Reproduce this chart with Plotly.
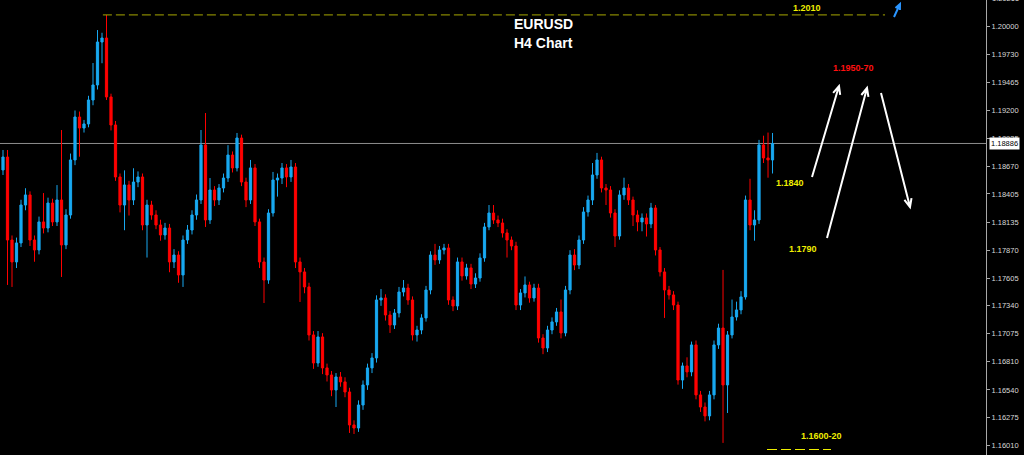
import math
import plotly.graph_objects as go

# ---------------- data (EURUSD H4 candles) ----------------
open_ = [
    1.18634, 1.18757, 1.17967, 1.17758, 1.17939, 1.18300, 1.18396, 1.17967, 1.17872, 1.18139,
    1.18081, 1.18319, 1.18139, 1.18348, 1.17920, 1.18205, 1.18729, 1.19138, 1.19033, 1.19072,
    1.19300, 1.19443, 1.19852, 1.19890, 1.19329, 1.19062, 1.18567, 1.18300, 1.18491, 1.18348,
    1.18519, 1.18567, 1.18110, 1.18300, 1.18205, 1.18110, 1.18015, 1.18081, 1.17758, 1.17824,
    1.17634, 1.17967, 1.18062, 1.18205, 1.18348, 1.18872, 1.18158, 1.18443, 1.18348, 1.18462,
    1.18557, 1.18776, 1.18653, 1.18938, 1.18519, 1.18348, 1.18653, 1.18139, 1.17758, 1.17586,
    1.18224, 1.18538, 1.18557, 1.18653, 1.18567, 1.18662, 1.17758, 1.17663, 1.17520, 1.17063,
    1.16796, 1.17044, 1.16749, 1.16682, 1.16539, 1.16663, 1.16616, 1.16520, 1.16206, 1.16177,
    1.16396, 1.16587, 1.16749, 1.16844, 1.17396, 1.17415, 1.17253, 1.17158, 1.17272, 1.17472,
    1.17510, 1.17396, 1.17063, 1.17110, 1.17225, 1.17491, 1.17824, 1.17777, 1.17872, 1.17891,
    1.17396, 1.17339, 1.17758, 1.17625, 1.17701, 1.17548, 1.17605, 1.17796, 1.18091, 1.18224,
    1.18158, 1.18129, 1.18034, 1.17967, 1.17910, 1.17348, 1.17463, 1.17539, 1.17415, 1.17510,
    1.17034, 1.16939, 1.17110, 1.17187, 1.17282, 1.17082, 1.17491, 1.17824, 1.17729, 1.17967,
    1.18234, 1.18348, 1.18586, 1.18729, 1.18462, 1.18443, 1.18224, 1.18005, 1.18396, 1.18462,
    1.18348, 1.18205, 1.18139, 1.18177, 1.18120, 1.18272, 1.17872, 1.17663, 1.17491, 1.17444,
    1.17348, 1.16634, 1.16768, 1.16711, 1.16968, 1.16492, 1.16377, 1.16292, 1.16492, 1.16968,
    1.17129, 1.16587, 1.17063, 1.17234, 1.17301, 1.17425, 1.18348, 1.18110, 1.18158, 1.18872,
    1.18748, 1.18729,
]
high = [
    1.18824, 1.18824, 1.18010, 1.17990, 1.18350, 1.18460, 1.18430, 1.18010, 1.18190, 1.18414,
    1.18370, 1.18360, 1.18490, 1.19014, 1.18260, 1.18790, 1.19200, 1.19190, 1.19110, 1.19340,
    1.19652, 1.19966, 1.19940, 1.20110, 1.19360, 1.19100, 1.18600, 1.18630, 1.18530, 1.18650,
    1.18620, 1.18600, 1.18350, 1.18340, 1.18250, 1.18160, 1.18130, 1.18120, 1.17880, 1.17860,
    1.18010, 1.18110, 1.18250, 1.18400, 1.19014, 1.19176, 1.18557, 1.18480, 1.18500, 1.18600,
    1.18870, 1.18810, 1.18986, 1.18970, 1.18560, 1.18729, 1.18690, 1.18170, 1.17800, 1.18260,
    1.18615, 1.18600, 1.18700, 1.18690, 1.18729, 1.18700, 1.17800, 1.17700, 1.17560, 1.17100,
    1.17100, 1.17080, 1.16790, 1.16720, 1.16700, 1.16710, 1.16660, 1.16560, 1.16250, 1.16440,
    1.16630, 1.16790, 1.16890, 1.17440, 1.17500, 1.17450, 1.17290, 1.17310, 1.17520, 1.17586,
    1.17550, 1.17430, 1.17150, 1.17260, 1.17530, 1.17860, 1.17930, 1.17910, 1.17930, 1.17930,
    1.17430, 1.17800, 1.17800, 1.17740, 1.17740, 1.17650, 1.17840, 1.18130, 1.18300, 1.18300,
    1.18200, 1.18170, 1.18070, 1.18000, 1.17950, 1.17500, 1.17620, 1.17570, 1.17550, 1.17550,
    1.17070, 1.17150, 1.17230, 1.17320, 1.17400, 1.17530, 1.17870, 1.17880, 1.18010, 1.18280,
    1.18390, 1.18700, 1.18796, 1.18760, 1.18500, 1.18480, 1.18260, 1.18440, 1.18560, 1.18500,
    1.18380, 1.18250, 1.18220, 1.18220, 1.18320, 1.18300, 1.17900, 1.17700, 1.17530, 1.17480,
    1.17380, 1.16800, 1.16850, 1.17000, 1.17010, 1.16530, 1.16420, 1.16530, 1.17010, 1.17170,
    1.17682, 1.17100, 1.17400, 1.17380, 1.17480, 1.18390, 1.18550, 1.18250, 1.18920, 1.18960,
    1.18990, 1.18986,
]
low = [
    1.18586, 1.17539, 1.17520, 1.17700, 1.17900, 1.18250, 1.17910, 1.17760, 1.17830, 1.18030,
    1.18040, 1.18100, 1.18100, 1.17615, 1.17880, 1.18170, 1.18680, 1.18760, 1.18990, 1.19040,
    1.19250, 1.19400, 1.19650, 1.19300, 1.19010, 1.18530, 1.18230, 1.18060, 1.18200, 1.18300,
    1.18470, 1.18060, 1.17800, 1.18160, 1.18070, 1.17960, 1.17970, 1.17660, 1.17700, 1.17560,
    1.17520, 1.17930, 1.18020, 1.18160, 1.18310, 1.18091, 1.18120, 1.18290, 1.18300, 1.18420,
    1.18520, 1.18610, 1.18620, 1.18480, 1.18280, 1.18310, 1.18100, 1.17700, 1.17367, 1.17550,
    1.18190, 1.18380, 1.18500, 1.18470, 1.18520, 1.17700, 1.17377, 1.17460, 1.17010, 1.16740,
    1.16760, 1.16690, 1.16620, 1.16480, 1.16377, 1.16570, 1.16470, 1.16130, 1.16120, 1.16140,
    1.16350, 1.16540, 1.16700, 1.16800, 1.17340, 1.17200, 1.17082, 1.17120, 1.17230, 1.17430,
    1.17350, 1.17010, 1.17000, 1.17070, 1.17190, 1.17450, 1.17730, 1.17740, 1.17830, 1.17350,
    1.17290, 1.17300, 1.17580, 1.17590, 1.17500, 1.17510, 1.17570, 1.17760, 1.18060, 1.18120,
    1.18090, 1.17990, 1.17800, 1.17870, 1.17300, 1.17300, 1.17420, 1.17370, 1.17380, 1.16990,
    1.16880, 1.16900, 1.17070, 1.17150, 1.17030, 1.17050, 1.17450, 1.17680, 1.17690, 1.17930,
    1.18190, 1.18300, 1.18550, 1.18420, 1.18300, 1.18180, 1.17900, 1.17970, 1.18350, 1.18300,
    1.18100, 1.18050, 1.18050, 1.18000, 1.18080, 1.17820, 1.17620, 1.17225, 1.17400, 1.17300,
    1.16590, 1.16550, 1.16660, 1.16670, 1.16450, 1.16330, 1.16240, 1.16250, 1.16450, 1.16930,
    1.16035, 1.16320, 1.17030, 1.17200, 1.17260, 1.17400, 1.18060, 1.17960, 1.18120, 1.18700,
    1.18560, 1.18600,
]
close = [
    1.18757, 1.17967, 1.17758, 1.17939, 1.18300, 1.18396, 1.17967, 1.17872, 1.18139, 1.18081,
    1.18319, 1.18139, 1.18348, 1.17920, 1.18205, 1.18729, 1.19138, 1.19033, 1.19072, 1.19300,
    1.19443, 1.19852, 1.19890, 1.19329, 1.19062, 1.18567, 1.18300, 1.18491, 1.18348, 1.18519,
    1.18567, 1.18110, 1.18300, 1.18205, 1.18110, 1.18015, 1.18081, 1.17758, 1.17824, 1.17634,
    1.17967, 1.18062, 1.18205, 1.18348, 1.18872, 1.18158, 1.18443, 1.18348, 1.18462, 1.18557,
    1.18776, 1.18653, 1.18938, 1.18519, 1.18348, 1.18653, 1.18139, 1.17758, 1.17586, 1.18224,
    1.18538, 1.18557, 1.18653, 1.18567, 1.18662, 1.17758, 1.17663, 1.17520, 1.17063, 1.16796,
    1.17044, 1.16749, 1.16682, 1.16539, 1.16663, 1.16616, 1.16520, 1.16206, 1.16177, 1.16396,
    1.16587, 1.16749, 1.16844, 1.17396, 1.17415, 1.17253, 1.17158, 1.17272, 1.17472, 1.17510,
    1.17396, 1.17063, 1.17110, 1.17225, 1.17491, 1.17824, 1.17777, 1.17872, 1.17891, 1.17396,
    1.17339, 1.17758, 1.17625, 1.17701, 1.17548, 1.17605, 1.17796, 1.18091, 1.18224, 1.18158,
    1.18129, 1.18034, 1.17967, 1.17910, 1.17348, 1.17463, 1.17539, 1.17415, 1.17510, 1.17034,
    1.16939, 1.17110, 1.17187, 1.17282, 1.17082, 1.17491, 1.17824, 1.17729, 1.17967, 1.18234,
    1.18348, 1.18586, 1.18729, 1.18462, 1.18443, 1.18224, 1.18005, 1.18396, 1.18462, 1.18348,
    1.18205, 1.18139, 1.18177, 1.18120, 1.18272, 1.17872, 1.17663, 1.17491, 1.17444, 1.17348,
    1.16634, 1.16768, 1.16711, 1.16968, 1.16492, 1.16377, 1.16292, 1.16492, 1.16968, 1.17129,
    1.16587, 1.17063, 1.17234, 1.17301, 1.17425, 1.18348, 1.18110, 1.18158, 1.18872, 1.18748,
    1.18729, 1.18886,
]

axis_ticks = [1.20000, 1.19730, 1.19465, 1.19200, 1.18935, 1.18670, 1.18405, 1.18135,
              1.17870, 1.17605, 1.17340, 1.17075, 1.16810, 1.16540, 1.16275, 1.16010]
top_cut_tick = 1.20265

title_lines = ["EURUSD", "H4 Chart"]
level_labels = ["1.2010", "1.1950-70", "1.1840", "1.1790", "1.1600-20"]

# ---------------- layout constants ----------------
W, H = 1024, 455
PLOT_W = 986            # plot area width in px (axis line position)
Y_RANGE = [1.15920, 1.20252]
X_RANGE = [-0.667, 218.44]

BULL = "#18a8f0"
BEAR = "#ff0000"
YELLOW = "#eeee00"
OLIVE = "#a8a800"
TICKCOL = "#d8d8d8"


def px_to_paper(px, py):
    return px / PLOT_W, 1 - py / H


def price_to_paper(p):
    return (p - Y_RANGE[0]) / (Y_RANGE[1] - Y_RANGE[0])


x_idx = list(range(len(close)))

fig = go.Figure()
fig.add_trace(go.Candlestick(
    x=x_idx, open=open_, high=high, low=low, close=close,
    increasing=dict(line=dict(color=BULL, width=1), fillcolor=BULL),
    decreasing=dict(line=dict(color=BEAR, width=1), fillcolor=BEAR),
    hoverinfo="skip", showlegend=False,
))

shapes = []
# current price line
last = close[-1]
shapes.append(dict(type="line", xref="paper", yref="y", x0=0, x1=1, y0=last, y1=last,
                   line=dict(color="#8c8c8c", width=1), layer="below"))
# dashed yellow line at the high
peak_i = max(range(len(high)), key=lambda i: high[i])
shapes.append(dict(type="line", xref="x", yref="y", x0=peak_i - 0.8, x1=196,
                   y0=high[peak_i], y1=high[peak_i],
                   line=dict(color=OLIVE, width=1, dash="9px,4px")))
# dashed yellow line under 1.1600-20
x0p, y0p = px_to_paper(767, 449.5)
x1p, _ = px_to_paper(831, 449.5)
shapes.append(dict(type="line", xref="paper", yref="paper", x0=x0p, x1=x1p, y0=y0p, y1=y0p,
                   line=dict(color=YELLOW, width=1, dash="10px,4px")))

# hand drawn arrows (tail px, tip px, colour)
arrows = [((812, 177), (839, 86), "white"),
          ((827, 238), (867, 88), "white"),
          ((881, 93), (910, 207), "white"),
          ((894, 17), (900, 4), "#2a95ff")]
for (tx, ty), (hx, hy), col in arrows:
    dx, dy = tx - hx, ty - hy
    L = math.hypot(dx, dy)
    ux, uy = dx / L, dy / L
    hl = 9 if col == "white" else 6
    pts = []
    for ang in (math.radians(24), -math.radians(24)):
        rx = ux * math.cos(ang) - uy * math.sin(ang)
        ry = ux * math.sin(ang) + uy * math.cos(ang)
        pts.append((hx + rx * hl, hy + ry * hl))
    a = px_to_paper(tx, ty)
    b = px_to_paper(hx, hy)
    c = px_to_paper(*pts[0])
    d = px_to_paper(*pts[1])
    path = (f"M {a[0]},{a[1]} L {b[0]},{b[1]} M {c[0]},{c[1]} L {b[0]},{b[1]} L {d[0]},{d[1]}")
    shapes.append(dict(type="path", xref="paper", yref="paper", path=path,
                       line=dict(color=col, width=2)))

annotations = []
# title
for txt, py in zip(title_lines, (24, 43)):
    xp, yp = px_to_paper(543, py)
    annotations.append(dict(xref="paper", yref="paper", x=xp, y=yp, text=f"<b>{txt}</b>",
                            showarrow=False, xanchor="center", yanchor="middle",
                            font=dict(family="Liberation Sans, Arial, sans-serif", size=14,
                                      color="white")))
# level labels
label_pos = [(807, 8, YELLOW), (853, 68, "#ff1010"), (790, 183, YELLOW),
             (803, 249, YELLOW), (821, 436, YELLOW)]
for txt, (px, py, col) in zip(level_labels, label_pos):
    xp, yp = px_to_paper(px, py)
    annotations.append(dict(xref="paper", yref="paper", x=xp, y=yp, text=f"<b>{txt}</b>",
                            showarrow=False, xanchor="center", yanchor="middle",
                            font=dict(family="Liberation Sans, Arial, sans-serif", size=9,
                                      color=col)))
# partially visible top tick label (sits just above the visible range)
annotations.append(dict(xref="paper", yref="paper", x=1, y=price_to_paper(top_cut_tick),
                        xshift=4, text=f"{top_cut_tick:.5f}", showarrow=False,
                        xanchor="left", yanchor="middle",
                        font=dict(family="Liberation Sans, Arial, sans-serif", size=7.5,
                                  color=TICKCOL)))
# current price box
annotations.append(dict(xref="paper", yref="y", x=1, y=last, xshift=3,
                        text=f"{last:.5f}", showarrow=False, xanchor="left", yanchor="middle",
                        bgcolor="white", borderpad=1,
                        font=dict(family="Liberation Sans, Arial, sans-serif", size=7.5,
                                  color="black")))

fig.update_layout(
    width=W, height=H,
    margin=dict(l=0, r=W - PLOT_W, t=0, b=0, pad=0),
    paper_bgcolor="black", plot_bgcolor="black",
    showlegend=False,
    shapes=shapes, annotations=annotations,
    xaxis=dict(range=X_RANGE, visible=False, rangeslider=dict(visible=False),
               showgrid=False, zeroline=False, fixedrange=True),
    yaxis=dict(range=Y_RANGE, side="right", showgrid=False, zeroline=False,
               showline=True, linecolor="#a8a8a8", linewidth=1,
               ticks="outside", ticklen=3, tickcolor="#a8a8a8", tickwidth=1,
               tickvals=axis_ticks, tickformat=".5f",
               tickfont=dict(family="Liberation Sans, Arial, sans-serif", size=7.5,
                             color=TICKCOL),
               automargin=False, fixedrange=True),
    hovermode=False,
)

fig.write_html("out.html", config={"displayModeBar": False},
               post_script="document.body.style.margin='0';document.body.style.overflow='hidden';")
